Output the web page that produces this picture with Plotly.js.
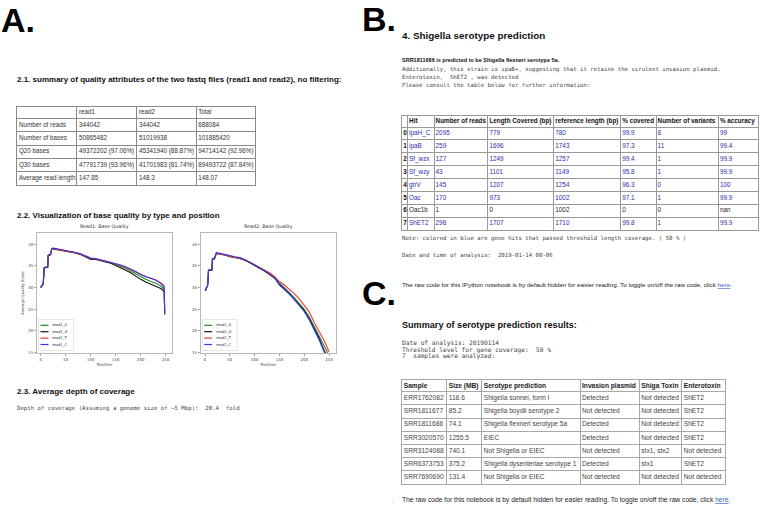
<!DOCTYPE html>
<html><head><meta charset="utf-8">
<script src="https://cdn.plot.ly/plotly-3.0.1.min.js"></script>
<style>html,body{margin:0;padding:0;background:#fff}#chart{width:760px;height:506px}</style>
</head><body><div id="chart"></div>
<script>
// ---------------- DATA ----------------
// Read1 base quality (position, mean quality per base)
const pos1 = [0,2,3,5,6,7,9,10,14,15,19,20,22,23,25,30,40,50,60,70,80,90,100,110,120,130,140,150,160,170,180,190,200,210,220,230,240,244,246,247,248];
const read1_A = [30.1,30.2,30.6,30.8,32.2,34.5,34.6,34.6,34.7,37.3,37.5,37.6,38.9,39.0,39.0,38.9,38.7,38.5,38.2,38.0,37.7,37.2,36.6,36.6,36.3,36.1,35.7,35.3,34.9,34.4,33.8,33.1,32.5,31.9,31.4,31.0,30.4,30.0,29.7,29.5,24.0];
const read1_G = [30.0,30.2,30.5,30.8,32.1,34.6,34.6,34.7,34.7,37.4,37.5,37.7,38.9,39.0,38.9,38.8,38.6,38.4,38.2,38.0,37.6,37.1,36.5,36.5,36.2,36.0,35.6,35.1,34.6,34.0,33.4,32.6,31.9,31.3,30.8,30.4,29.8,29.4,29.2,29.0,23.8];
const read1_T = [30.1,30.3,30.6,30.9,32.3,34.6,34.7,34.7,34.8,37.4,37.6,37.7,39.0,39.0,39.0,38.9,38.7,38.5,38.3,38.0,37.7,37.2,36.7,36.6,36.4,36.1,35.8,35.5,35.1,34.7,34.2,33.6,33.0,32.5,32.1,31.8,31.2,30.8,30.5,30.3,24.2];
const read1_C = [30.1,30.3,30.6,30.9,32.3,34.6,34.7,34.7,34.8,37.5,37.6,37.8,39.0,39.1,39.1,39.0,38.8,38.6,38.4,38.1,37.8,37.3,36.8,36.7,36.4,36.2,35.9,35.6,35.2,34.8,34.3,33.7,33.1,32.5,32.2,31.7,31.0,30.5,30.2,30.0,24.0];
// Read2 base quality
const pos2 = [0,2,3,5,6,7,9,10,14,15,19,20,22,23,25,30,40,50,60,70,80,90,100,110,120,130,140,150,160,170,180,190,200,210,220,230,240,245,248,249,250];
const read2_A = [29.4,29.5,30.1,30.3,31.5,34.0,34.0,34.0,34.1,36.6,36.7,37.0,38.0,38.0,37.9,37.8,37.6,37.3,37.0,36.8,36.4,35.8,35.2,34.6,33.9,33.2,32.4,31.0,30.0,28.9,27.7,26.4,25.0,23.3,21.0,19.0,16.7,15.4,14.8,14.6,14.4];
const read2_G = [29.3,29.5,30.0,30.2,31.4,33.9,34.0,34.0,34.0,36.5,36.6,36.9,37.9,37.9,37.8,37.7,37.5,37.1,36.9,36.7,36.3,35.8,35.1,34.5,33.8,33.0,32.2,30.6,29.6,28.5,27.3,26.0,24.7,22.9,20.6,18.4,15.6,14.3,13.6,13.4,13.2];
const read2_T = [29.4,29.6,30.1,30.3,31.5,34.0,34.1,34.1,34.1,36.6,36.7,37.0,38.0,38.0,37.9,37.7,37.5,37.2,36.9,36.7,36.4,35.9,35.3,34.7,34.1,33.4,32.6,31.4,30.6,29.7,28.6,27.4,26.0,24.4,22.0,20.0,17.8,16.6,15.8,15.5,15.2];
const read2_C = [29.4,29.6,30.1,30.3,31.5,34.0,34.1,34.1,34.1,36.7,36.8,37.1,38.1,38.1,38.0,37.9,37.7,37.4,37.1,36.9,36.5,35.9,35.3,34.6,33.9,33.1,32.3,30.9,29.8,28.6,27.3,25.9,24.5,22.6,20.3,18.0,15.2,13.8,13.0,12.8,12.5];
const xTicks = [0,50,100,150,200,250];
const yTicks = [15,20,25,30,35,40];

// Table 2.1 quality summary
const qcHeader = ["", "read1", "read2", "Total"];
const qcLabels = ["Number of reads","Number of bases","Q20 bases","Q30 bases","Average read length"];
const qcRead1 = ["344042","50865482","49372202 (97.06%)","47791739 (93.96%)","147.85"];
const qcRead2 = ["344042","51019938","45341940 (88.87%)","41701983 (81.74%)","148.3"];
const qcTotal = ["688084","101885420","94714142 (92.96%)","89493722 (87.84%)","148.07"];

// Table 4 serotype hits
const hitHeader = ["", "Hit", "Number of reads", "Length Covered (bp)", "reference length (bp)", "% covered", "Number of variants", "% accuracy"];
const hitIndex = ["0","1","2","3","4","5","6","7"];
const hitName = ["ipaH_C","ipaB","Sf_wzx","Sf_wzy","gtrV","Oac","Oac1b","ShET2"];
const hitReads = ["2095","259","127","43","145","170","1","296"];
const hitLenCovered = ["779","1696","1249","1101","1207","973","0","1707"];
const hitRefLen = ["780","1743","1257","1149","1254","1002","1002","1710"];
const hitPctCovered = ["99.9","97.3","99.4","95.8","96.3","97.1","0","99.8"];
const hitVariants = ["8","11","1","1","0","1","0","1"];
const hitAccuracy = ["99","99.4","99.9","99.9","100","99.9","nan","99.9"];
const hitPassed = [true,true,true,true,true,true,false,true];

// Summary table
const sumHeader = ["Sample","Size (MB)","Serotype prediction","Invasion plasmid","Shiga Toxin","Enterotoxin"];
const sumSample = ["ERR1762082","SRR1811677","SRR1811686","SRR3020570","SRR3124088","SRR6373753","SRR7690690"];
const sumSize = ["118.6","85.2","74.1","1255.5","740.1","375.2","131.4"];
const sumSerotype = ["Shigella sonnei, form I","Shigella boydii serotype 2","Shigella flexneri serotype 5a","EIEC","Not Shigella or EIEC","Shigella dysenteriae serotype 1","Not Shigella or EIEC"];
const sumInvasion = ["Detected","Not detected","Detected","Detected","Not detected","Detected","Not detected"];
const sumShiga = ["Not detected","Not detected","Not detected","Not detected","stx1, stx2","stx1","Not detected"];
const sumEntero = ["ShET2","ShET2","ShET2","ShET2","Not detected","ShET2","Not detected"];

// ---------------- LAYOUT HELPERS ----------------
const W = 760, H = 506;
const fx = x => x / W;
const fy = y => 1 - y / H;
const SANS = 'Liberation Sans, Arial, sans-serif';
const MONO = 'DejaVu Sans Mono, Liberation Mono, monospace';
const MPL = 'DejaVu Sans, sans-serif';
const NB = '\u00a0';

const traces = [];
const layout = {
  width: W, height: H, margin: {l:0, r:0, t:0, b:0},
  paper_bgcolor: '#ffffff', plot_bgcolor: '#ffffff',
  showlegend: false, font: {family: SANS, color: '#222'},
  annotations: [], shapes: []
};

function ann(text, x, y, size, o) {
  o = o || {};
  layout.annotations.push({
    text: text, x: fx(x), y: fy(y), xref: 'paper', yref: 'paper',
    xanchor: o.xanchor || 'left', yanchor: 'middle', showarrow: false,
    borderpad: 0, textangle: o.angle || 0,
    font: {family: o.family || SANS, size: size, color: o.color || '#111'}
  });
}

// ---------------- QUALITY CHARTS ----------------
const nucColors = {A: '#1e8c1e', G: '#161616', T: '#ee3c30', C: '#3838e6'};
function qualityChart(n, pos, series, prefix, box, xr, yr, title, ytitle) {
  const sfx = n === 1 ? '' : String(n);
  const tickfont = {family: MPL, size: 3.9, color: '#444'};
  layout['xaxis' + sfx] = {
    domain: [fx(box.x0), fx(box.x1)], range: xr, anchor: 'y' + sfx,
    tickvals: xTicks, ticks: 'outside', ticklen: 2, tickwidth: 0.6, tickcolor: '#666',
    tickfont: tickfont, showline: true, mirror: true, linecolor: '#b8b8b8', linewidth: 1,
    showgrid: false, zeroline: false, fixedrange: true,
    title: {text: 'Position', font: {family: MPL, size: 4, color: '#444'}, standoff: 2}
  };
  layout['yaxis' + sfx] = {
    domain: [fy(box.y1), fy(box.y0)], range: yr, anchor: 'x' + sfx,
    tickvals: yTicks, ticks: 'outside', ticklen: 2, tickwidth: 0.6, tickcolor: '#666',
    tickfont: tickfont, showline: true, mirror: true, linecolor: '#b8b8b8', linewidth: 1,
    showgrid: false, zeroline: false, fixedrange: true,
    title: ytitle ? {text: ytitle, font: {family: MPL, size: 3.9, color: '#444'}, standoff: 3} : {text: ''}
  };
  ['A','G','T','C'].forEach(k => {
    traces.push({
      type: 'scatter', mode: 'lines', x: pos, y: series[k], name: prefix + k,
      xaxis: 'x' + sfx, yaxis: 'y' + sfx,
      line: {color: nucColors[k], width: 1.1}, hoverinfo: 'skip'
    });
  });
  ann(title, (box.x0 + box.x1) / 2, 226, 4.8, {xanchor: 'center', family: MPL, color: '#333'});
  // legend (lower left)
  const lx = box.x0 + 1.5, ly0 = 319.5, ly1 = 350.5;
  layout.shapes.push({type: 'rect', xref: 'paper', yref: 'paper', x0: fx(lx), x1: fx(lx + 35), y0: fy(ly1), y1: fy(ly0),
    line: {color: '#d4d4d4', width: 0.6}, fillcolor: 'rgba(255,255,255,0.85)'});
  ['A','G','T','C'].forEach((k, i) => {
    const yy = 325.3 + i * 6.4;
    layout.shapes.push({type: 'line', xref: 'paper', yref: 'paper', x0: fx(lx + 2), x1: fx(lx + 10), y0: fy(yy), y1: fy(yy),
      line: {color: nucColors[k], width: 1.2}});
    ann(prefix + k, lx + 12.5, yy, 3.7, {family: MPL, color: '#333'});
  });
}
qualityChart(1, pos1, {A: read1_A, G: read1_G, T: read1_T, C: read1_C}, 'read1_',
  {x0: 37, x1: 172, y0: 232.7, y1: 353.3}, [-7.4, 262.6], [14.86, 42.65], 'Read1: Base Quality', 'Average Quality Score');
qualityChart(2, pos2, {A: read2_A, G: read2_G, T: read2_T, C: read2_C}, 'read2_',
  {x0: 200.7, x1: 336, y0: 232.7, y1: 353.3}, [-8.7, 264.1], [14.86, 42.65], 'Read2: Base Quality', null);

// ---------------- TABLES ----------------
function addTable(n, colB, rowB, columns, o) {
  const nc = colB.length - 1;
  const axLine = {showgrid: true, gridcolor: o.line, gridwidth: 1, showline: true, mirror: true,
    linecolor: o.line, linewidth: 1, ticks: '', showticklabels: false, zeroline: false, fixedrange: true};
  layout['xaxis' + n] = Object.assign({domain: [fx(colB[0]), fx(colB[nc])], range: [colB[0], colB[nc]],
    anchor: 'y' + n, tickvals: colB.slice(1, -1)}, axLine);
  layout['yaxis' + n] = Object.assign({domain: [fy(rowB[rowB.length - 1]), fy(rowB[0])],
    range: [rowB[rowB.length - 1], rowB[0]], anchor: 'x' + n, tickvals: rowB.slice(1, -1)}, axLine);
  const yc = rowB.slice(0, -1).map((b, i) => (b + rowB[i + 1]) / 2);
  columns.forEach((col, c) => {
    traces.push({
      type: 'scatter', mode: 'text', xaxis: 'x' + n, yaxis: 'y' + n,
      x: col.map(() => colB[c] + o.pad), y: yc,
      text: col.map((t, r) => o.bold(r, c) ? '<b>' + t + '</b>' : t),
      textposition: 'middle right', cliponaxis: false, hoverinfo: 'skip',
      textfont: {family: SANS, size: o.size, color: col.map((t, r) => o.color(r, c))}
    });
  });
}

// Table 2.1
addTable(3, [16.7, 76.7, 136.7, 196, 255], [106.7, 118.3, 131.7, 145, 158.3, 171.7, 185],
  [[qcHeader[0]].concat(qcLabels), [qcHeader[1]].concat(qcRead1), [qcHeader[2]].concat(qcRead2), [qcHeader[3]].concat(qcTotal)],
  {pad: 2.2, size: 6.3, line: '#8a8a8a', bold: () => false, color: () => '#333'});

// Table 4
const hitBlue = '#2c2cae';
addTable(4, [401.7, 407.5, 434, 487.8, 553.7, 620.7, 656, 718.3, 757.5],
  [115.5, 127, 139.9, 152.8, 165.7, 178.6, 191.5, 204.4, 217.3, 230.2],
  [[hitHeader[0]].concat(hitIndex), [hitHeader[1]].concat(hitName), [hitHeader[2]].concat(hitReads),
   [hitHeader[3]].concat(hitLenCovered), [hitHeader[4]].concat(hitRefLen), [hitHeader[5]].concat(hitPctCovered),
   [hitHeader[6]].concat(hitVariants), [hitHeader[7]].concat(hitAccuracy)],
  {pad: 1.6, size: 6.35, line: '#999999', bold: (r, c) => r === 0 || c === 0,
   color: (r, c) => (r === 0 || c === 0) ? '#111' : (hitPassed[r - 1] ? hitBlue : '#222')});

// Summary table
addTable(5, [401.7, 446.7, 481.7, 580, 639.3, 681.7, 725],
  [380, 391.7, 404.9, 418.1, 431.3, 444.5, 457.7, 470.9, 484.1],
  [[sumHeader[0]].concat(sumSample), [sumHeader[1]].concat(sumSize), [sumHeader[2]].concat(sumSerotype),
   [sumHeader[3]].concat(sumInvasion), [sumHeader[4]].concat(sumShiga), [sumHeader[5]].concat(sumEntero)],
  {pad: 2, size: 6.65, line: '#a8a8a8', bold: (r) => r === 0, color: (r) => r === 0 ? '#222' : '#444'});

// ---------------- TEXT ----------------
ann('<b>A.</b>', 0, 19.5, 34, {color: '#000'});
ann('<b>B.</b>', 361, 19, 34, {color: '#000'});
ann('<b>C.</b>', 361, 293, 34, {color: '#000'});

ann('<b>2.1. summary of quality attributes of the two fastq files (read1 and read2), no filtering:</b>', 16.2, 80, 8);
ann('<b>2.2. Visualization of base quality by type and position</b>', 16.2, 215, 8);
ann('<b>2.3. Average depth of coverage</b>', 16.2, 391, 8);
ann('Depth of coverage (Assuming a genome size of ~5 Mbp):' + NB + NB + '20.4' + NB + NB + 'fold', 16.2, 408, 5.7, {family: MONO, color: '#444'});

ann('<b>4. Shigella serotype prediction</b>', 401.2, 35, 9.9);
ann('<b>SRR1811686 is predicted to be Shigella flexneri serotype 5a.</b>', 401.2, 60, 5.5);
ann('Additionally, this strain is ipaB+, suggesting that it retains the virulent invasion plasmid.', 401.2, 69.3, 5.7, {family: MONO, color: '#444'});
ann('Enterotoxin,' + NB + NB + 'ShET2' + NB + ', was detected', 401.2, 77.3, 5.7, {family: MONO, color: '#444'});
ann('Please consult the table below for further information:', 401.2, 85, 5.7, {family: MONO, color: '#444'});
ann('Note: colored in blue are gene hits that passed threshold length coverage. ( 50 % )', 401.2, 238.3, 5.7, {family: MONO, color: '#444'});
ann('Date and time of analysis:' + NB + NB + '2019-01-14 00-06', 401.2, 255, 5.7, {family: MONO, color: '#444'});
ann('The raw code for this IPython notebook is by default hidden for easier reading. To toggle on/off the raw code, click <span style="color:#3a62c0"><u>here</u></span>.', 401.2, 284, 6.25, {color: '#222'});

ann('<b>Summary of serotype prediction results:</b>', 401.2, 325, 9.1);
ann('Date of analysis: 20190114', 401.2, 343.3, 6.2, {family: MONO, color: '#444'});
ann('Threshold level for gene coverage:' + NB + NB + '50 %', 401.2, 349.6, 6.2, {family: MONO, color: '#444'});
ann('7' + NB + NB + 'samples were analyzed:', 401.2, 356, 6.2, {family: MONO, color: '#444'});
ann(':', 391, 500, 6.7, {color: '#999'});
ann('The raw code for this notebook is by default hidden for easier reading. To toggle on/off the raw code, click <span style="color:#3a62c0"><u>here</u></span>.', 401.2, 500, 6.7, {color: '#222'});

Plotly.newPlot('chart', traces, layout, {staticPlot: true, displayModeBar: false});
</script>
</body></html>
